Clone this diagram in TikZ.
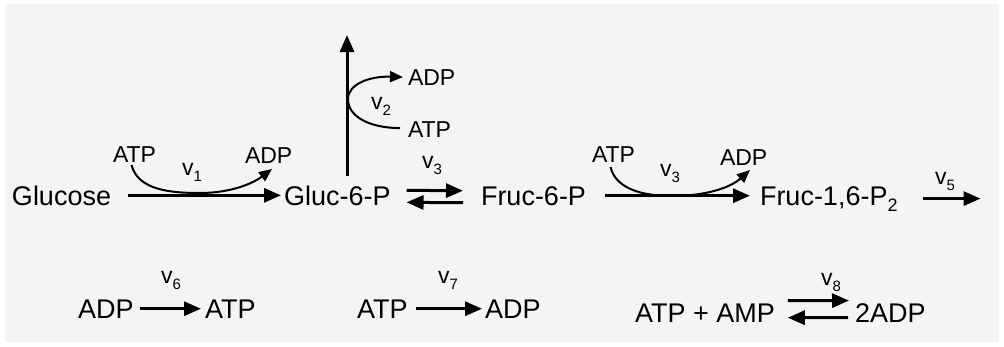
\documentclass[tikz,border=0pt]{standalone}
\usepackage{fontspec}
\setmainfont{Liberation Sans}
\usetikzlibrary{arrows.meta,calc}
\newcommand\ratev[1]{v\raisebox{-6pt}{\fontsize{15}{15}\selectfont #1}}
\begin{document}
\begin{tikzpicture}[x=1pt,y=-1pt,
  lbl/.style={inner sep=0pt,outer sep=0pt,anchor=base west,font=\fontsize{27}{30}\selectfont},
  cof/.style={inner sep=0pt,outer sep=0pt,anchor=base west,font=\fontsize{23}{26}\selectfont},
  rate/.style={inner sep=0pt,anchor=center,font=\fontsize{23}{26}\selectfont},
  main/.style={line width=3pt,-{Triangle[length=17pt,width=14pt]}},
  cur/.style={line width=2pt,-{Triangle[length=13pt,width=11pt]}}]
\fill[white] (0,0) rectangle (1004,346);
\fill[gray!9] (5,4) rectangle (999,342);
\useasboundingbox (0,0) rectangle (1004,346);

% main pathway
\node[lbl] (glc) at (12,205) {Glucose};
\node[lbl] (g6p) at (284,205) {Gluc-6-P};
\node[lbl] (f6p) at (481,205) {Fruc-6-P};
\node[lbl] (f16) at (760,205) {Fruc-1,6-P\raisebox{-6pt}{\fontsize{18}{18}\selectfont 2}};

% cofactors
\node[cof] (atp1) at (113,162) {ATP};
\node[cof] (adp1) at (245,163) {ADP};
\node[cof] (adp2) at (408,85) {ADP};
\node[cof] (atp2) at (408,137) {ATP};
\node[cof] (atp3) at (592,162) {ATP};
\node[cof] (adp3) at (720,165) {ADP};

% rates
\node[rate] (v1) at (192,172) {\ratev{1}};
\node[rate] (v2) at (381,106) {\ratev{2}};
\node[rate] (v3) at (432,165) {\ratev{3}};
\node[rate] (v4) at (670,173) {\ratev{3}};
\node[rate] (v5) at (945,181) {\ratev{5}};
\node[rate] (v6) at (171,280) {\ratev{6}};
\node[rate] (v7) at (448,280) {\ratev{7}};
\node[rate] (v8) at (831,282) {\ratev{8}};

% bottom row
\node[lbl] (adp6) at (78,318) {ADP};
\node[lbl] (atp6) at (205,318) {ATP};
\node[lbl] (atp7) at (357,318) {ATP};
\node[lbl] (adp7) at (485,318) {ADP};
\node[lbl] (atpamp) at (635,322) {ATP + AMP};
\node[lbl] (adp8) at (855,322) {2ADP};

\coordinate (g6ptop) at (347,35);
\coordinate (out5) at ($(f16.east)+(83,0)$);

% arrows
\draw[main] ($(glc.east)+(17,0)$) -- ($(g6p.west)+(-3,0)$);
\draw[main] ($(g6p.north west)+(63,-9)$) -- (g6ptop);
\draw[main] ($(g6p.east)+(16,-5)$) -- ($(f6p.west)+(-18,-5)$);
\draw[main] ($(f6p.west)+(-18,7)$) -- ($(g6p.east)+(16,7)$);
\draw[main] ($(f6p.east)+(19,0)$) -- ($(f6p.east -| f16.west)+(-10,0)$);
\draw[main] ($(f16.east)+(25,0)$) -- (out5);

\draw[cur] ($(atp1.south)+(-3,3)$) .. controls (138,190) and (170,193) .. (200,193)
  .. controls (230,193) and (252,184) .. ($(adp1.south west)+(27,6)$);
\draw[cur] ($(atp2.west)+(-8,-1)$) .. controls (370,128) and (348,117) .. (348,99)
  .. controls (348,84) and (370,76) .. ($(adp2.west)+(-5,0)$);
\draw[cur] ($(atp3.south)+(-3,5)$) .. controls (616,190) and (645,196) .. (672,196)
  .. controls (705,196) and (730,188) .. ($(adp3.south west)+(30,5)$);

\draw[main] ($(adp6.east)+(6,0)$) -- ($(atp6.west)+(-4,0)$);
\draw[main] ($(atp7.east)+(8,0)$) -- ($(adp7.west)+(-3,0)$);
\draw[main] ($(atpamp.east)+(13,-12)$) -- ($(adp8.west)+(-6,-12)$);
\draw[main] ($(adp8.west)+(-7,5)$) -- ($(atpamp.east)+(13,5)$);
\end{tikzpicture}
\end{document}
